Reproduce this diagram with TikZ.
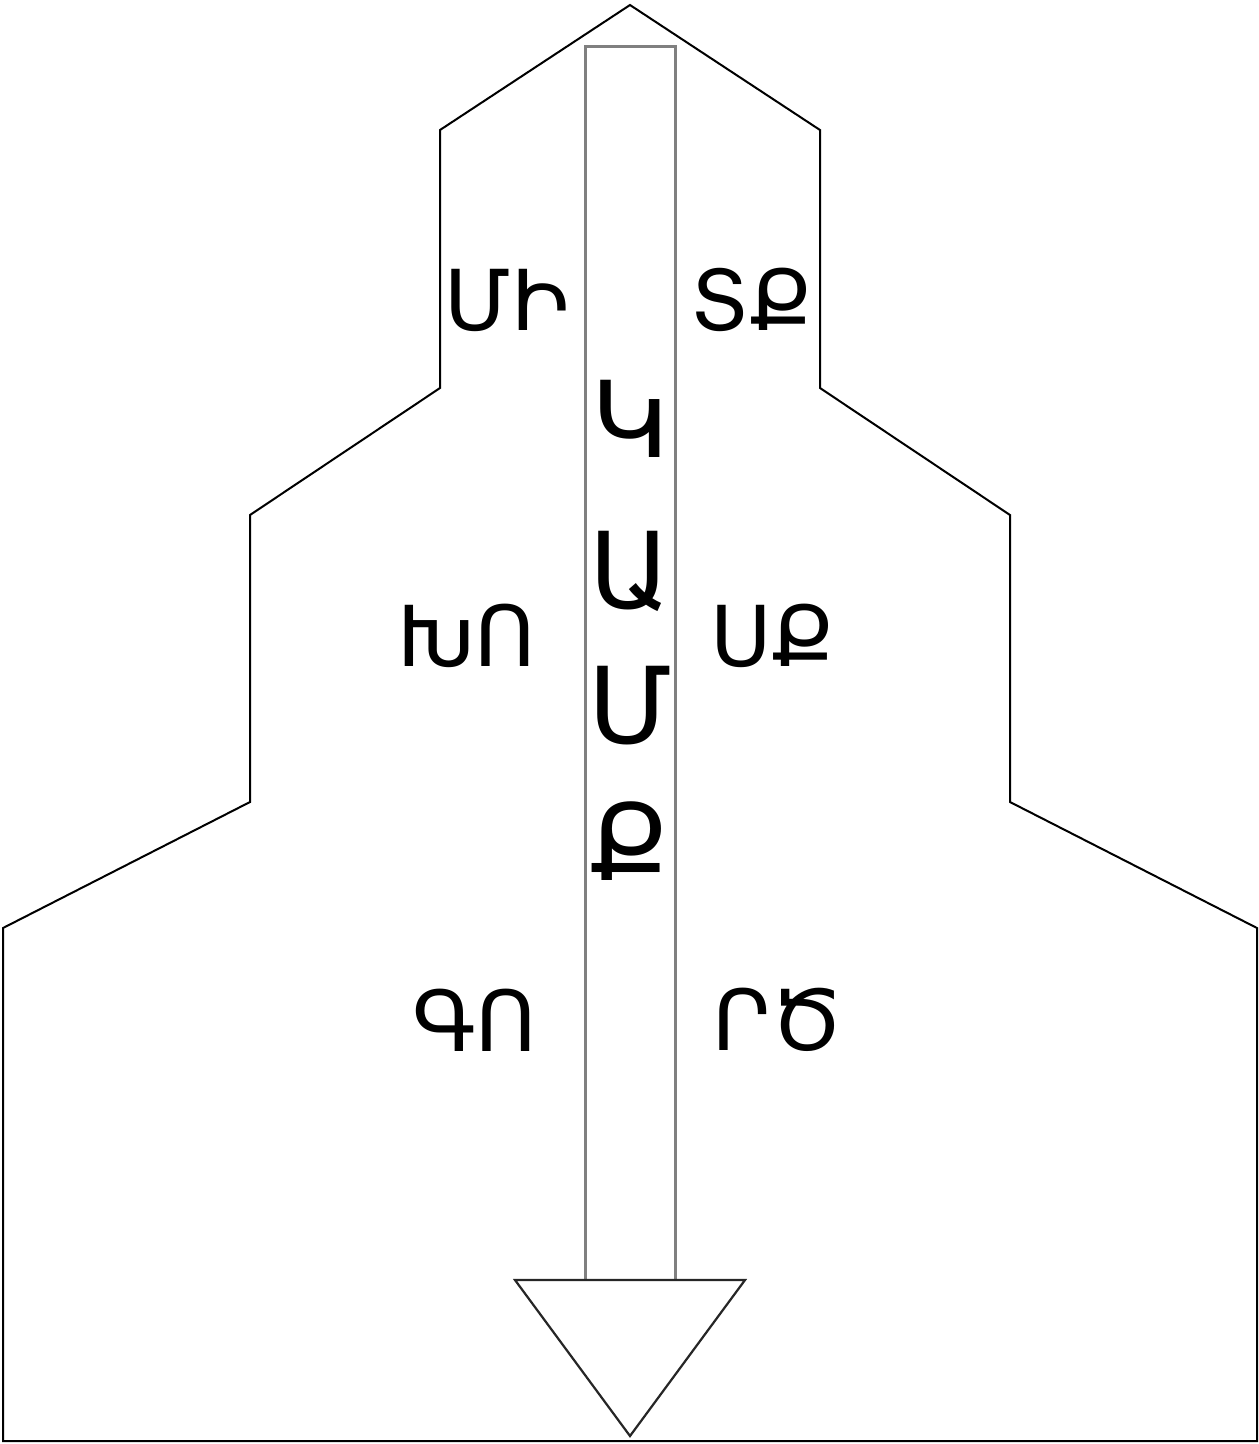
\documentclass[tikz,border=0pt]{standalone}
\usepackage{fontspec}
\setmainfont{DejaVu Sans}
\newfontfamily\armfont{DejaVu Sans}
\begin{document}
\begin{tikzpicture}[x=1pt,y=-1pt,
  outline/.style={draw=black,line width=2pt,line join=miter},
  shaft/.style={draw=black!50,line width=3pt},
  head/.style={draw=black!85,line width=2.2pt,fill=white},
  lbl/.style={inner sep=0pt,font=\armfont\fontsize{84}{100}\selectfont},
  vlbl/.style={inner sep=0pt,font=\armfont\fontsize{106}{130}\selectfont}]
\useasboundingbox (0,0) rectangle (1259,1444);
\draw[outline] (630,5) -- (440,130) -- (440,388) -- (250,515) -- (250,802)
  -- (3,928) -- (3,1441) -- (1257,1441) -- (1257,928) -- (1010,802)
  -- (1010,515) -- (820,388) -- (820,130) -- cycle;
\draw[shaft] (585,46) rectangle (675,1280);
\draw[head] (515,1280) -- (745,1280) -- (630,1436) -- cycle;
\node[lbl] (mi) at (507,300) {ՄԻ};
\node[lbl] (tq) at (752,300) {ՏՔ};
\node[lbl] (kho) at (467,636) {ԽՈ};
\node[lbl] (sq) at (773,636) {ՍՔ};
\node[lbl] (go) at (475,1020) {ԳՈ};
\node[lbl] (rts) at (778,1020) {ՐԾ};
\node[vlbl,anchor=base] (k) at (630,457) {Կ};
\node[vlbl,anchor=base] (a) at (630,608) {Ա};
\node[vlbl,anchor=base] (m) at (630,743) {Մ};
\node[vlbl,anchor=base] (q) at (630,880) {Ք};
\end{tikzpicture}
\end{document}
